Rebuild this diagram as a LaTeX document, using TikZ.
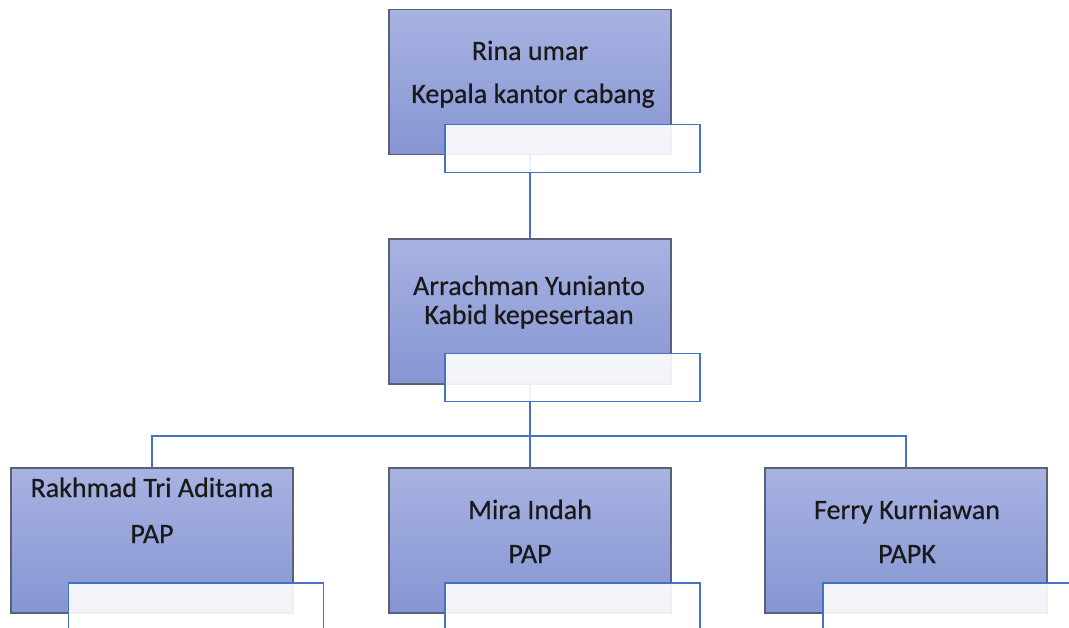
\documentclass[tikz,border=0pt]{standalone}
\usepackage{fontspec}
\setmainfont{Carlito}
\newfontfamily\lblfont{Carlito}[FakeBold=0.5]
\definecolor{boxtop}{RGB}{168,179,226}
\definecolor{boxbot}{RGB}{134,149,211}
\definecolor{boxedge}{RGB}{92,96,118}
\definecolor{linkblue}{RGB}{68,114,196}
\definecolor{txt}{RGB}{25,25,25}
\begin{document}
\begin{tikzpicture}[x=1pt,y=-1pt,
  mainbox/.style={draw=boxedge, line width=1.2pt, top color=boxtop, bottom color=boxbot,
    minimum width=282pt, minimum height=145pt, inner sep=0pt},
  ovbox/.style={draw=linkblue, line width=1.5pt, fill=white, fill opacity=0.9,
    minimum width=255pt, minimum height=48pt, inner sep=0pt},
  link/.style={draw=linkblue, line width=1.5pt},
  lbl/.style={anchor=base, text=txt, font=\lblfont\fontsize{28}{34}\selectfont, inner sep=0pt}]
\clip (0,0) rectangle (1069,628);
\fill[white] (0,0) rectangle (1069,628);
% main boxes
\node[mainbox] (top) at (530,82) {};
\node[mainbox] (mid) at (530,311.5) {};
\node[mainbox] (b1) at (152,540.5) {};
\node[mainbox] (b2) at (530,540.5) {};
\node[mainbox] (b3) at (906,540.5) {};
% connectors
\coordinate (j) at (530,436);
\draw[link] (top.south) -- (mid.north);
\draw[link] (mid.south) -- (j);
\draw[link] (j) -| (b1.north);
\draw[link] (j) -| (b3.north);
\draw[link] (j) -- (b2.north);
% overlay boxes
\node[ovbox] (topov) at (572.5,148.5) {};
\node[ovbox] (midov) at (572.5,377.5) {};
\node[ovbox] (b1ov) at (196,607) {};
\node[ovbox] (b2ov) at (572.5,607) {};
\node[ovbox] (b3ov) at (950.5,607) {};
% texts
\node[lbl] (t1a) at (530,60) {Rina umar};
\node[lbl] (t1b) at (533,103) {Kepala kantor cabang};
\node[lbl] (t2a) at (529,295) {Arrachman Yunianto};
\node[lbl] (t2b) at (529,324) {Kabid kepesertaan};
\node[lbl] (t3a) at (152,497) {Rakhmad Tri Aditama};
\node[lbl] (t3b) at (152,543) {PAP};
\node[lbl] (t4a) at (530,519) {Mira Indah};
\node[lbl] (t4b) at (530,563) {PAP};
\node[lbl] (t5a) at (907,519) {Ferry Kurniawan};
\node[lbl] (t5b) at (907,563) {PAPK};
\end{tikzpicture}
\end{document}
